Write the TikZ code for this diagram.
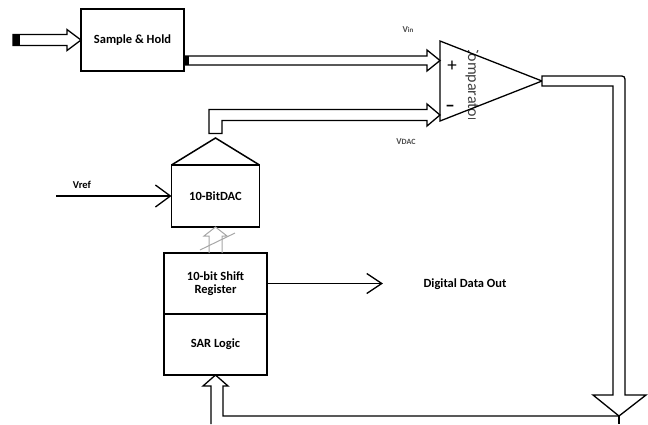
\documentclass[tikz,border=0pt]{standalone}
\usepackage{fontspec}
\setmainfont{Carlito}
\usepackage{tikz}
\usetikzlibrary{arrows.meta, positioning, calc}

\begin{document}
\begin{tikzpicture}[x=1pt, y=-1pt, line width=1.3pt,
  blk/.style={draw, line width=1.5pt, inner sep=0pt, outer sep=0pt, align=center,
    font=\fontsize{12.5}{13}\selectfont\bfseries},
  hollow/.style={draw, line width=1.3pt, fill=white, line join=miter},
  lbl/.style={inner sep=0pt, font=\fontsize{12.5}{14}\selectfont\bfseries},
  vlbl/.style={inner sep=0pt, text=black!70, font=\bfseries},
  sign/.style={inner sep=0pt, font=\fontsize{19}{19}\selectfont},
  openhead/.style={-{Straight Barb[length=15pt, width=22pt]}}]
\useasboundingbox (0,0) rectangle (648,424);

% Blocks
\node[blk, minimum width=103pt, minimum height=62pt] (SH) at (132.5,40) {Sample \& Hold};
\node[blk, minimum width=103pt, minimum height=61pt] (SR) at (215.5,283.5) {10-bit Shift\\Register};
\node[blk, minimum width=103pt, minimum height=61pt, below=0pt of SR] (SAR) {SAR Logic};
\node[blk, minimum width=88pt, minimum height=62pt, above=26pt of SR] (DAC) {10-BitDAC};
\coordinate (roof) at (215.5,138);
\draw[line width=1.5pt, line join=miter] (DAC.north west) -- (roof) -- (DAC.north east);

% Comparator
\coordinate (cpT) at (440,41);
\coordinate (cpB) at (440,121);
\coordinate (cpO) at (542,81);
\coordinate (cpP) at (440,60.5);
\coordinate (cpM) at (440,115);
\begin{scope}
  \clip (441,50) rectangle (500,118);
  \node[rotate=-90, inner sep=0pt, text=black!75, font=\fontsize{16}{16}\selectfont] (cmpTxt) at (472,84) {Comparator};
\end{scope}
\draw[line join=miter] (cpT) -- (cpB) -- (cpO) -- cycle;
\node[sign] (plus) at (452,66) {+};
\node[sign, font=\fontsize{19}{19}\selectfont\bfseries] (minus) at (450,108) {--};

% Input into Sample & Hold
\draw[hollow] (SH.west) -- ++(-14,-10.5) -- ++(0,5) -- ++(-54,0) -- ++(0,11) -- ++(54,0) -- ++(0,5) -- cycle;
\fill ($(SH.west)+(-68,-5.5)$) rectangle ++(7,11);

% Sample & Hold to comparator (+)
\draw[hollow] (cpP) -- ++(-13,-10.5) -- ++(0,6) -- ++(-243,0) -- ++(0,9) -- ++(243,0) -- ++(0,6) -- cycle;
\fill (184,56) rectangle (189,65);
\node[vlbl] (vin) at (408,30) {\fontsize{9}{9}\selectfont V\fontsize{7}{7}\selectfont in};

% DAC to comparator (-)
\draw[hollow] (cpM) -- ++(-13,-11) -- ++(0,5.5) -- ++(-218,0) -- ++(0,24) -- ++(13,0)
  -- ++(0,-13) -- ++(205,0) -- ++(0,5.5) -- cycle;
\node[vlbl] (vdac) at (406,142) {\fontsize{9}{9}\selectfont V\fontsize{8}{8}\selectfont DAC};

% Vref
\coordinate (vrefIn) at (56,196);
\draw[openhead] (vrefIn) -- (DAC.west);
\node[inner sep=0pt, font=\fontsize{10.5}{12}\selectfont\bfseries] (vref) at (82,185) {Vref};

% Bus from shift register to DAC
\draw[gray!70, line width=1pt, line join=miter] (209,253) -- (209,236) -- (204,236) -- (DAC.south)
  -- (227,236) -- (222,236) -- (222,253);
\draw[gray!70, line width=1pt] (200,250) -- (235,233);

% Digital data out
\node[lbl] (dout) at (465,284) {Digital Data Out};
\draw[-{Straight Barb[length=15pt, width=20pt]}, shorten >=40pt] (SR.east) -- (SR.east -| dout.west);

% Feedback from comparator to SAR logic
\coordinate (fbTip) at (619,416);
\draw[hollow] (542,76) -- (618,76) .. controls (625,76) .. (625,83) -- (625,395) -- (646,395)
  -- (fbTip) -- (593,395) -- (613,395) -- (613,86) -- (542,86) -- cycle;
\draw (fbTip) -- (619,424);
\draw[line join=miter] (211,424) -- (211,386) -- (203,386) -- (SAR.south) -- (228,386) -- (223,386)
  -- (223,416) -- (fbTip);

\end{tikzpicture}
\end{document}
